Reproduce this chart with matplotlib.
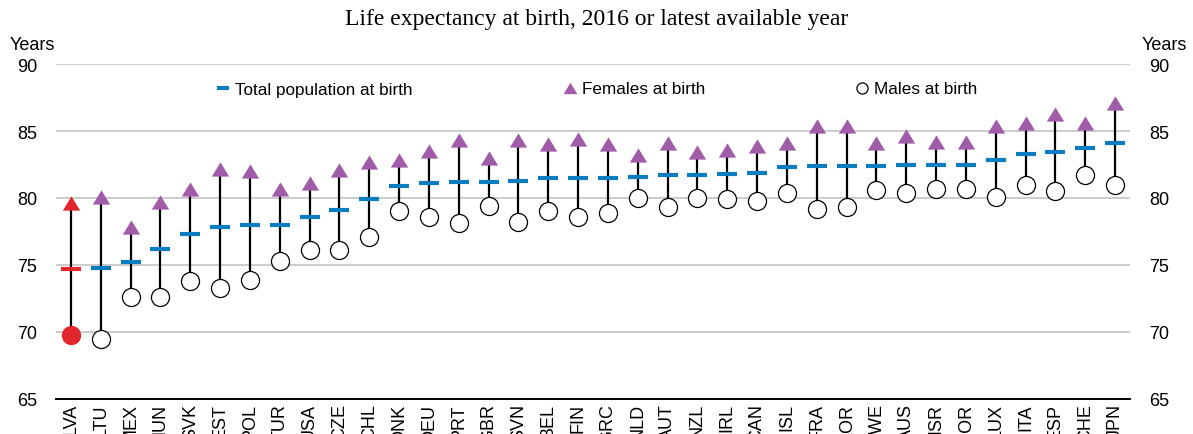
import matplotlib
matplotlib.use("Agg")
import matplotlib.pyplot as plt
from matplotlib.lines import Line2D

# life expectancy at birth (years)
countries = ["LVA", "LTU", "MEX", "HUN", "SVK", "EST", "POL", "TUR", "USA", "CZE",
             "CHL", "DNK", "DEU", "PRT", "GBR", "SVN", "BEL", "FIN", "GRC", "NLD",
             "AUT", "NZL", "IRL", "CAN", "ISL", "FRA", "KOR", "SWE", "AUS", "ISR",
             "NOR", "LUX", "ITA", "ESP", "CHE", "JPN"]
total = [74.7, 74.8, 75.2, 76.2, 77.3, 77.8, 78.0, 78.0, 78.6, 79.1,
         79.9, 80.9, 81.1, 81.2, 81.2, 81.3, 81.5, 81.5, 81.5, 81.6,
         81.7, 81.7, 81.8, 81.9, 82.3, 82.4, 82.4, 82.4, 82.5, 82.5,
         82.5, 82.8, 83.3, 83.4, 83.7, 84.1]
females = [79.6, 80.1, 77.8, 79.7, 80.7, 82.2, 82.0, 80.7, 81.1, 82.1,
           82.7, 82.8, 83.5, 84.3, 83.0, 84.3, 84.0, 84.4, 84.0, 83.2,
           84.1, 83.4, 83.6, 83.9, 84.1, 85.4, 85.4, 84.1, 84.6, 84.2,
           84.2, 85.4, 85.6, 86.3, 85.6, 87.1]
males = [69.8, 69.5, 72.6, 72.6, 73.8, 73.3, 73.9, 75.3, 76.1, 76.1,
         77.1, 79.0, 78.6, 78.1, 79.4, 78.2, 79.0, 78.6, 78.9, 80.0,
         79.3, 80.0, 79.9, 79.8, 80.4, 79.2, 79.3, 80.6, 80.4, 80.7,
         80.7, 80.1, 81.0, 80.5, 81.7, 81.0]
highlight = "LVA"

blue = "#0A7DC2"
purple = "#A05CA9"
red = "#E3262D"
tri = [(-1, -0.82), (1, -0.82), (0, 0.82)]

plt.rcParams["font.family"] = ["Liberation Sans", "DejaVu Sans"]

fig = plt.figure(figsize=(11.93, 4.35), dpi=100)
ax = fig.add_axes([56 / 1193, 35 / 435, 1074 / 1193, 335 / 435])

x = list(range(len(countries)))

ax.vlines(x, males, females, color="black", lw=1.6, zorder=2)
for i, c in enumerate(countries):
    hl = c == highlight
    ax.plot(i, total[i], marker="_", ms=14.5, mew=3, color=red if hl else blue,
            linestyle="none", zorder=3)
    ax.plot(i, females[i], marker=tri, ms=12.5, mew=0, color=red if hl else purple,
            linestyle="none", zorder=3)
    ax.plot(i, males[i], marker="o", ms=13, mew=0.9, mfc=red if hl else "white",
            mec=red if hl else "black", linestyle="none", zorder=3)

ax.set_xlim(-0.5, len(countries) - 0.5)
ax.set_ylim(65, 90)
ax.set_yticks([65, 70, 75, 80, 85, 90])
ax.set_xticks(x)
ax.set_xticklabels(countries, rotation=90, fontsize=13)
ax.tick_params(axis="x", length=0, pad=3)
ax.tick_params(axis="y", length=0, pad=13.5, labelsize=13,
               labelleft=True, labelright=True)
ax.grid(axis="y", color="#C8C8C8", lw=1.3)
ax.set_axisbelow(True)
for s in ["top", "left", "right"]:
    ax.spines[s].set_visible(False)
ax.spines["bottom"].set_linewidth(1.4)
ax.spines["bottom"].set_zorder(1)

fig.text(32 / 1193, 1 - 46 / 435, "Years", ha="center", va="center", fontsize=13)
fig.text(1164 / 1193, 1 - 46 / 435, "Years", ha="center", va="center", fontsize=13)
fig.suptitle("Life expectancy at birth, 2016 or latest available year",
             family=["Liberation Serif", "DejaVu Serif"], fontsize=17, y=1 - 19 / 435,
             va="center")

handles = [
    Line2D([], [], marker="_", ms=9, mew=3, color=blue, linestyle="none"),
    Line2D([], [], marker=tri, ms=10, mew=0, color=purple, linestyle="none"),
    Line2D([], [], marker="o", ms=8, mew=0.9, mfc="white", mec="black", linestyle="none"),
]
ax.legend(handles, ["Total population at birth", "Females at birth", "Males at birth"],
          ncol=3, loc="center", bbox_to_anchor=((597 - 56) / 1074, (400 - 90) / 335),
          frameon=False, fontsize=12.3, handlelength=0.8, handletextpad=0.3,
          columnspacing=8.8, borderpad=0)

fig.savefig("out.png", dpi=100)
